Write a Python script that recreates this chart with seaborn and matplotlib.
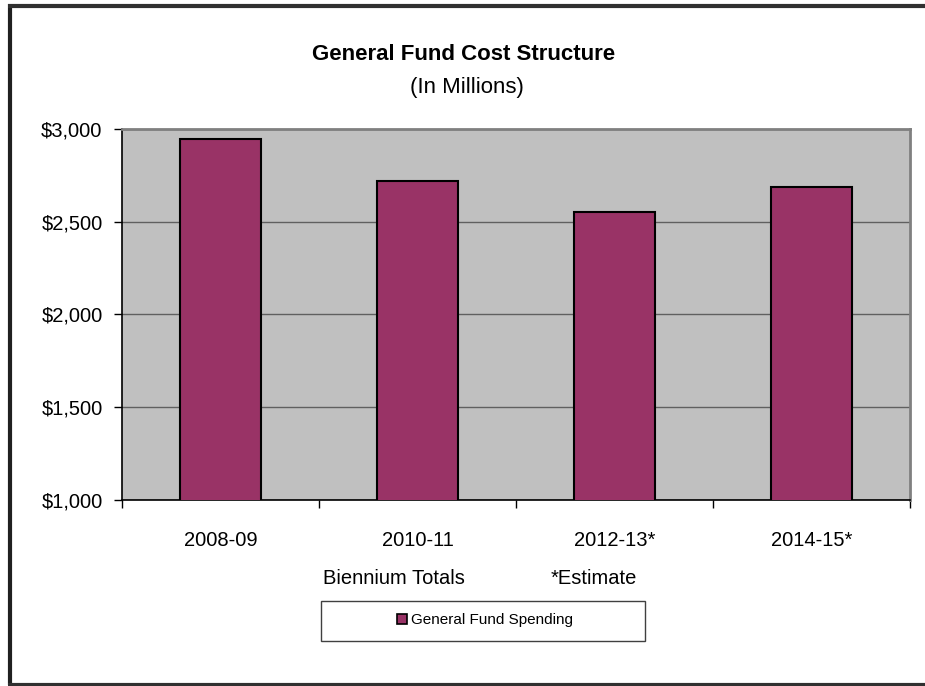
import matplotlib
matplotlib.use("Agg")
import matplotlib.pyplot as plt
import seaborn as sns
import pandas as pd
from matplotlib.patches import Patch, Rectangle
from matplotlib.ticker import FuncFormatter


# ----------------- Data -----------------
bienniums = ["2008-09", "2010-11", "2012-13*", "2014-15*"]
spending = [2947, 2722, 2553, 2690]
y_ticks = [1000, 1500, 2000, 2500, 3000]
series_name = "General Fund Spending"

BAR_COLOR = "#993366"
PLOT_BG = "#C0C0C0"

sns.set_theme(style="white")
plt.rcParams["font.family"] = ["Liberation Sans", "DejaVu Sans"]
plt.rcParams["text.color"] = "black"
plt.rcParams["xtick.color"] = "black"
plt.rcParams["ytick.color"] = "black"

df = pd.DataFrame({"Biennium": bienniums, "Spending": spending})

fig = plt.figure(figsize=(9.25, 6.86), dpi=100)
ax = fig.add_axes([122 / 925, 1 - 500 / 686, 788 / 925, 371 / 686])
ax.set_facecolor(PLOT_BG)

sns.barplot(data=df, x="Biennium", y="Spending", color=BAR_COLOR,
            edgecolor="black", linewidth=1.5, width=0.41, saturation=1,
            ax=ax, zorder=3)

# ----------------- Axes styling -----------------
ax.set_ylim(y_ticks[0], y_ticks[-1])
ax.set_xlim(-0.5, len(bienniums) - 0.5)
ax.set_yticks(y_ticks)
ax.yaxis.set_major_formatter(FuncFormatter(lambda v, p: f"${v:,.0f}"))
ax.yaxis.grid(True, color="#606060", linewidth=1.0, zorder=0)
ax.set_axisbelow(True)
ax.set_xlabel("")
ax.set_ylabel("")

# category ticks sit on the boundaries, labels under the bars
ax.set_xticks([i - 0.5 for i in range(len(bienniums) + 1)], minor=True)
ax.tick_params(axis="x", which="major", length=0, pad=22, labelsize=14.5,
               labelcolor="black")
ax.tick_params(axis="x", which="minor", length=6, width=1, color="black",
               direction="out", bottom=True)
ax.tick_params(axis="y", which="major", length=6, width=1, color="black",
               direction="out", left=True, pad=8, labelsize=14.5,
               labelcolor="black")

for side in ["top", "right"]:
    ax.spines[side].set_color("#808080")
    ax.spines[side].set_linewidth(2)
for side in ["left", "bottom"]:
    ax.spines[side].set_color("black")
    ax.spines[side].set_linewidth(1.2)

# ----------------- Titles and notes -----------------
fig.text(464 / 925, 1 - 55 / 686, "General Fund Cost Structure",
         ha="center", va="center", fontsize=16, fontweight="bold", color="black")
fig.text(467 / 925, 1 - 88 / 686, "(In Millions)",
         ha="center", va="center", fontsize=16, color="black")
fig.text(394 / 925, 1 - 578 / 686, "Biennium Totals",
         ha="center", va="center", fontsize=14.5, color="black")
fig.text(594 / 925, 1 - 578 / 686, "*Estimate",
         ha="center", va="center", fontsize=14.5, color="black")

# ----------------- Legend -----------------
fig.patches.append(Rectangle((321 / 925, 1 - 641 / 686), 324 / 925, 40 / 686,
                             transform=fig.transFigure, facecolor="white",
                             edgecolor="#404040", linewidth=1))
handle = Patch(facecolor=BAR_COLOR, edgecolor="black", linewidth=1.2,
               label=series_name)
leg = fig.legend(handles=[handle], loc="center",
                 bbox_to_anchor=(485 / 925, 1 - 620 / 686),
                 frameon=False, fontsize=11, handlelength=0.65,
                 handleheight=0.65, handletextpad=0.3)
for t in leg.get_texts():
    t.set_color("black")

# ----------------- Figure border -----------------
fig.add_artist(plt.Line2D([9.5 / 925, 9.5 / 925], [1 - 4 / 686, 1 - 685 / 686],
                          transform=fig.transFigure, color="#202020", linewidth=3,
                          solid_capstyle="butt"))
fig.add_artist(plt.Line2D([8 / 925, 1], [1 - 5.5 / 686, 1 - 5.5 / 686],
                          transform=fig.transFigure, color="#303030", linewidth=3,
                          solid_capstyle="butt"))
fig.add_artist(plt.Line2D([8 / 925, 1], [1 - 684.5 / 686, 1 - 684.5 / 686],
                          transform=fig.transFigure, color="#303030", linewidth=3,
                          solid_capstyle="butt"))

fig.savefig("out.png", dpi=100, facecolor="white")
